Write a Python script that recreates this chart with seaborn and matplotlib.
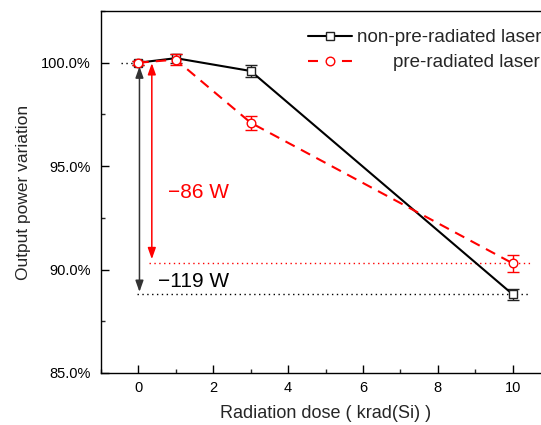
import matplotlib
matplotlib.use("Agg")
import matplotlib.pyplot as plt
import seaborn as sns
import pandas as pd
from matplotlib.lines import Line2D
from matplotlib.ticker import FuncFormatter, MultipleLocator

# ---- data ----
doses = [0, 1, 3, 10]
non_pre = [100.0, 100.22, 99.6, 88.8]
non_pre_err = [0.1, 0.22, 0.28, 0.28]
pre = [100.0, 100.15, 97.1, 90.3]
pre_err = [0.1, 0.25, 0.33, 0.4]
labels = ["non-pre-radiated laser", "pre-radiated laser"]
xticks = [0, 2, 4, 6, 8, 10]
yticks = [85, 90, 95, 100]
ann_black = "\u2212119 W"
ann_red = "\u221286 W"

sns.set_style("ticks")
plt.rcParams["font.family"] = ["Liberation Sans", "DejaVu Sans"]
plt.rcParams["axes.linewidth"] = 1.0

fig = plt.figure(figsize=(5.41, 4.25), dpi=100)
ax = fig.add_axes([100.9 / 541, 52 / 425, 12 * 37.44 / 541, 362 / 425])

df = pd.DataFrame({"dose": doses + doses,
                   "value": non_pre + pre,
                   "series": [labels[0]] * 4 + [labels[1]] * 4})

# error bars
ax.errorbar(doses, non_pre, yerr=non_pre_err, fmt="none", ecolor="#222222",
            elinewidth=1.0, capsize=4.5, capthick=1.0, zorder=3)
ax.errorbar(doses, pre, yerr=pre_err, fmt="none", ecolor="red",
            elinewidth=1.0, capsize=4.5, capthick=1.0, zorder=5)

sns.lineplot(data=df[df.series == labels[0]], x="dose", y="value", ax=ax,
             color="black", lw=1.5, marker="s", markersize=5.8,
             markerfacecolor="white", markeredgecolor="#222222",
             markeredgewidth=1.0, zorder=4, legend=False)
sns.lineplot(data=df[df.series == labels[1]], x="dose", y="value", ax=ax,
             color="red", lw=1.5, marker="o", markersize=6.2,
             markerfacecolor="white", markeredgecolor="red",
             markeredgewidth=1.0, zorder=6, legend=False, dashes=False)
ax.lines[-1].set_dashes((5.0, 3.4))

# reference dotted lines
ax.hlines(non_pre[-1], -0.03, 10.4, colors="black", linestyles=(0, (1, 2.5)), lw=1.0, zorder=2)
ax.hlines(pre[-1], 0.29, 10.47, colors="red", linestyles=(0, (1, 2.5)), lw=1.0, zorder=2)
ax.hlines(non_pre[0], -0.45, 0, colors="black", linestyles=(0, (1, 2.5)), lw=1.0, zorder=2)

# arrows
astyle = "<|-|>,head_length=0.45,head_width=0.16"
ax.annotate("", xy=(0.03, non_pre[-1] + 0.12), xytext=(0.03, non_pre[0] - 0.18),
            arrowprops=dict(arrowstyle=astyle, color="#333333", lw=1.1,
                            mutation_scale=15, shrinkA=0, shrinkB=0), zorder=7)
ax.annotate("", xy=(0.36, pre[-1] + 0.2), xytext=(0.36, pre[0] - 0.02),
            arrowprops=dict(arrowstyle=astyle, color="red", lw=1.1,
                            mutation_scale=15, shrinkA=0, shrinkB=0), zorder=7)

ax.text(0.78, 93.72, ann_red, color="red", fontsize=15, ha="left", va="center")
ax.text(0.52, 89.42, ann_black, color="black", fontsize=15, ha="left", va="center")

ax.set_xlim(-1, 11)
ax.set_ylim(85, 102.5)
ax.set_xticks(xticks)
ax.xaxis.set_minor_locator(MultipleLocator(1))
ax.set_yticks(yticks)
ax.yaxis.set_minor_locator(MultipleLocator(2.5))
ax.yaxis.set_major_formatter(FuncFormatter(lambda v, p: f"{v:.1f}%"))
ax.tick_params(which="major", direction="in", length=5.5, width=1.0,
               labelsize=10.5, colors="black")
ax.tick_params(which="minor", direction="in", length=2.8, width=1.0)
ax.tick_params(axis="y", which="major", pad=7.5)
ax.tick_params(axis="x", which="major", pad=6)
ax.tick_params(top=False, right=False, which="both")
ax.set_xlabel("Radiation dose ( krad(Si) )", fontsize=13, labelpad=7)
ax.set_ylabel("Output power variation", fontsize=12.5, labelpad=7)
for s in ax.spines.values():
    s.set_color("black")
    s.set_linewidth(1.0)

# legend (two single-row legends so the labels end right-aligned)
h1 = Line2D([], [], color="black", lw=1.5, marker="s", markersize=5.8,
            markerfacecolor="white", markeredgecolor="#222222", markeredgewidth=1.0)
h2 = Line2D([], [], color="red", lw=1.5, marker="o", markersize=6.2,
            markerfacecolor="white", markeredgecolor="red", markeredgewidth=1.0,
            dashes=(4.8, 11.5))
fs = 13.5
common = dict(frameon=False, borderpad=0, borderaxespad=0, handlelength=44 / (fs * 100 / 72),
              fontsize=fs, loc="center left", bbox_transform=fig.transFigure)
leg1 = ax.legend([h1], [labels[0]], handletextpad=0.27,
                 bbox_to_anchor=(308 / 541, 1 - 37.5 / 425), **common)
ax.add_artist(leg1)
leg2 = ax.legend([h2], [labels[1]], handletextpad=2.19,
                 bbox_to_anchor=(308 / 541, 1 - 62.5 / 425), **common)

fig.savefig("out.png", dpi=100)
